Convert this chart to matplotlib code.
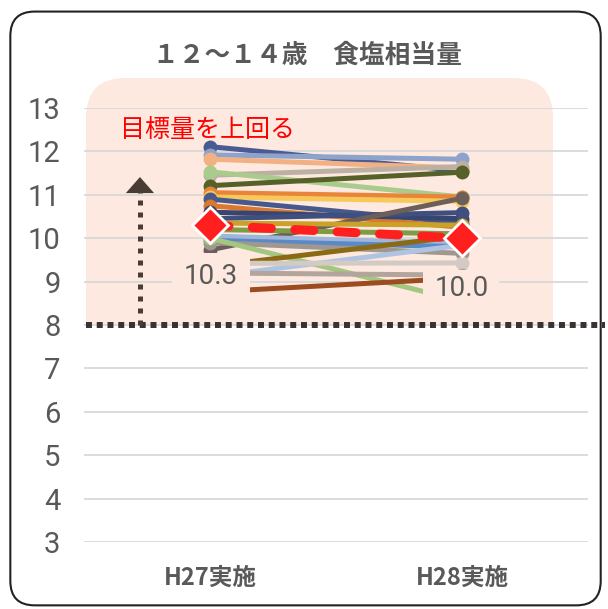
import matplotlib
matplotlib.use("Agg")
import matplotlib.pyplot as plt
from matplotlib.patches import FancyBboxPatch, Rectangle, Polygon

plt.rcParams['font.family'] = ['Noto Sans CJK JP', 'DejaVu Sans']

# ---- data ----
categories = ["H27実施", "H28実施"]
h27_values = [12.11, 11.92, 11.82, 11.45, 11.53, 11.21, 11.05, 10.95, 10.90, 10.75,
              10.60, 10.45, 9.73, 10.35, 10.20, 10.05, 9.95, 9.90, 10.00, 9.35,
              9.11, 9.42, 9.20, 8.76]
h28_values = [11.55, 11.82, 11.62, 11.65, 10.95, 11.52, 10.95, 10.85, 10.35, 10.25,
              10.45, 10.59, 10.92, 10.30, 10.10, 9.88, 9.80, 9.65, 8.55, 10.05,
              9.84, 9.43, 9.15, 9.08]
line_colors = ['#4a5a92', '#8ea3cc', '#f3b183', '#bcb0a4', '#a9cc8c', '#556128',
               '#e8853b', '#f7c85a', '#46598c', '#d9782e', '#38466f', '#3f5080',
               '#6c5f59', '#c9a227', '#7e9b45', '#9db6da', '#5b89c6', '#a09890',
               '#a3c77f', '#8a6a14', '#aec4e2', '#d3cbc3', '#b3a59c', '#9c4c1e']
mean_values = [10.3, 10.0]
mean_labels = ["10.3", "10.0"]
target_value = 8
y_ticks = [3, 4, 5, 6, 7, 8, 9, 10, 11, 12, 13]
title = "１２～１４歳　食塩相当量"
note = "目標量を上回る"

NUM_FONT = ['Roboto', 'DejaVu Sans']

W, H = 608, 609
fig = plt.figure(figsize=(W / 100, H / 100), dpi=100)
fig.patch.set_facecolor('white')

ax = fig.add_axes([84 / W, (H - 542) / H, 504 / W, 434 / H])
ax.set_facecolor('none')
ax.set_xlim(-0.5, 1.5)
ax.set_ylim(3, 13)
for s in ax.spines.values():
    s.set_visible(False)
ax.set_axisbelow(True)
ax.yaxis.grid(True, color='#d9d9d9', lw=1.3)
ax.set_yticks(y_ticks)
ax.set_yticklabels([str(t) for t in y_ticks], fontfamily=NUM_FONT,
                   fontsize=21, color='#595959')
ax.tick_params(axis='y', length=0, pad=17)
ax.set_xticks([0, 1])
ax.set_xticklabels(categories, fontsize=17, fontweight='bold', color='#595959')
ax.tick_params(axis='x', length=0, pad=17)

# pink panel (rounded top corners, square bottom at target line)
y8 = (H - 542) / H + (434 / H) * (target_value - 3) / 10
x0, x1 = 86 / W, 553 / W
ytop = 1 - 78 / H
r = 0.065
pink = '#fde9df'
ax.add_patch(FancyBboxPatch((x0, y8), x1 - x0, ytop - y8,
                            boxstyle=f'round,pad=0,rounding_size={r}',
                            transform=fig.transFigure, fc=pink, ec='none',
                            zorder=0.1, clip_on=False))
ax.add_patch(Rectangle((x0, y8), x1 - x0, r, transform=fig.transFigure,
                       fc=pink, ec='none', zorder=0.1, clip_on=False))

# individual lines
xs = [0, 1]
for a, b, c in zip(h27_values, h28_values, line_colors):
    ax.plot(xs, [a, b], color=c, lw=3.6, marker='o', ms=9, mfc=c, mec=c,
            zorder=2, solid_capstyle='butt')

# label boxes that hide the lines below them
ax.add_patch(Rectangle((-0.151, 8.55), 0.31, 1.11, fc=pink, ec='none', zorder=3))
ax.add_patch(Rectangle((0.845, 8.28), 0.30, 0.99, fc=pink, ec='none', zorder=3))
ax.text(0.004, 9.11, mean_labels[0], ha='center', va='center', fontsize=20,
        color='#595959', fontfamily=NUM_FONT, zorder=4)
ax.text(1.0, 8.85, mean_labels[1], ha='center', va='center', fontsize=20,
        color='#595959', fontfamily=NUM_FONT, zorder=4)

# mean line
ax.plot(xs, mean_values, color='#ff1f1f', lw=6.5, dashes=(2.1, 2.6),
        dash_capstyle='round', zorder=5)
ax.plot(xs, mean_values, ls='none', marker='D', ms=18, mfc='#ff1f1f', mec='white',
        mew=2, zorder=6)

# target dotted line
ax.plot([-0.492, 1.567], [target_value, target_value], color='#3a3230', lw=4.3,
        dashes=(1, 0.8), dash_capstyle='butt', zorder=5, clip_on=False)

# arrow
ax.plot([-0.278, -0.278], [target_value, 11.06], color='#4a3c35', lw=3.6,
        dashes=(1, 1.4), dash_capstyle='butt', zorder=5)
ax.add_patch(Polygon([[-0.334, 11.04], [-0.222, 11.04], [-0.278, 11.41]],
                     closed=True, fc='#4a3c35', ec='none', zorder=5))

ax.text(-0.357, 12.49, note, ha='left', va='center', fontsize=18, color='#ff0000',
        zorder=5)

fig.text(0.505, 1 - 55 / H, title, ha='center', va='center', fontsize=18.5,
         fontweight='bold', color='#595959')

# outer rounded frame
fig.patches.append(FancyBboxPatch((0.017, 0.006), 0.971, 0.975,
                                  boxstyle='round,pad=0,rounding_size=0.04',
                                  transform=fig.transFigure, fc='none', ec='#222222',
                                  lw=1.5, zorder=10))

fig.savefig('out.png', dpi=100)
